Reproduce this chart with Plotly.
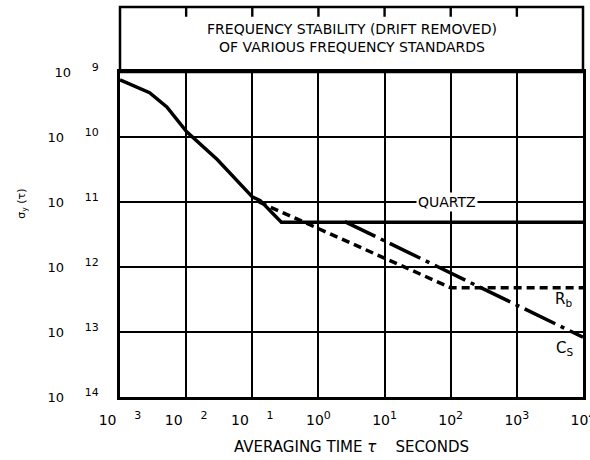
import math
import plotly.graph_objects as go

# ---- data ----
NB = "\u00a0"
EXP = "<sup><span style='font-size:11px'>{}</span></sup>"
x_tickvals = [1e-3, 1e-2, 1e-1, 1, 10, 100, 1000, 10000]
x_exponents = ["3", "2", "1", "0", "1", "2", "3", "4"]
x_gaps = [4, 4, 4, 0, 0, 0, 0, 0]
y_tickvals = [1e-9, 1e-10, 1e-11, 1e-12, 1e-13, 1e-14]
y_exponents = ["9", "10", "11", "12", "13", "14"]

quartz_tau = [1e-3, 2.8e-3, 5.1e-3, 1.02e-2, 2.95e-2, 0.1, 0.132, 0.275, 1e4]
quartz_sigma = [7.6e-10, 4.8e-10, 2.9e-10, 1.2e-10, 4.5e-11, 1.2e-11, 1.05e-11, 4.9e-12, 4.9e-12]

rb_tau = [0.126, 100, 1e4]
rb_sigma = [1.0e-11, 4.8e-13, 4.8e-13]

cs_tau = [2.5, 1e4]
cs_sigma = [5.0e-12, 8.3e-14]

x_ticktext = ["10" + NB * g + EXP.format(e) for g, e in zip(x_gaps, x_exponents)]
y_ticktext = ["10" + NB * 5 + EXP.format(e) for e in y_exponents]

X_RANGE = [-3.0001, 4.0001]
Y_RANGE = [-14.0001, -8.9999]
FONT = "DejaVu Sans"
BAND = 0.2  # height of the title band above the plot, in y-domain units

fig = go.Figure()
fig.add_trace(go.Scatter(x=quartz_tau, y=quartz_sigma, mode="lines",
                         line=dict(color="black", width=3.5), name="Quartz", showlegend=False))
fig.add_trace(go.Scatter(x=rb_tau, y=rb_sigma, mode="lines",
                         line=dict(color="black", width=3.5, dash="8px,5px"), name="Rb", showlegend=False))
fig.add_trace(go.Scatter(x=cs_tau, y=cs_sigma, mode="lines",
                         line=dict(color="black", width=3.5, dash="34px,6px,4px,6px"), name="Cs", showlegend=False))

# title band box above the grid
fig.add_shape(type="rect", xref="x domain", yref="y domain", x0=0, x1=1, y0=1, y1=1 + BAND,
              line=dict(color="black", width=2.5), fillcolor="rgba(0,0,0,0)")
# tick stubs hanging from the top of the band
for v in x_tickvals[1:-1]:
    f = (math.log10(v) - X_RANGE[0]) / (X_RANGE[1] - X_RANGE[0])
    fig.add_shape(type="line", xref="x domain", yref="y domain", x0=f, x1=f,
                  y0=1 + BAND, y1=1 + BAND - 0.03, line=dict(color="black", width=2.4))

fig.update_xaxes(type="log", range=X_RANGE, tickvals=x_tickvals, ticktext=x_ticktext,
                 showgrid=True, gridcolor="black", gridwidth=2.4, automargin=False,
                 showline=True, linecolor="black", linewidth=2.5, mirror=True,
                 ticks="", ticklabelstandoff=8, ticklabeloverflow="allow", zeroline=False,
                 tickfont=dict(family=FONT, size=14, color="black"))
fig.update_yaxes(type="log", range=Y_RANGE, tickvals=y_tickvals, ticktext=y_ticktext,
                 showgrid=True, gridcolor="black", gridwidth=2.4, automargin=False,
                 showline=True, linecolor="black", linewidth=2.5, mirror=True,
                 ticks="", ticklabelstandoff=16, zeroline=False,
                 tickfont=dict(family=FONT, size=13, color="black"))

common = dict(showarrow=False, xanchor="center", yanchor="middle")
annots = [
    dict(text="FREQUENCY STABILITY (DRIFT REMOVED)<br>OF VARIOUS FREQUENCY STANDARDS",
         xref="x domain", yref="y domain", x=0.5, y=1.106,
         font=dict(family=FONT, size=14, color="black"), **common),
    dict(text="QUARTZ", xref="x", yref="y", x=1.95, y=-11,
         bgcolor="white", font=dict(family=FONT, size=14, color="black"), **common),
    dict(text="R<sub>b</sub>", xref="x", yref="y", x=3.7, y=-12.5,
         font=dict(family=FONT, size=15, color="black"), **common),
    dict(text="C<sub>S</sub>", xref="x", yref="y", x=3.72, y=-13.25,
         font=dict(family=FONT, size=15, color="black"), **common),
    dict(text="AVERAGING TIME <i>\u03c4</i>" + NB * 4 + "SECONDS",
         xref="x domain", yref="y domain", x=0.5, y=-0.154,
         font=dict(family=FONT, size=15, color="black"), **common),
    dict(text="\u03c3<sub>y</sub> (\u03c4)", xref="x domain", yref="y domain", x=-0.212, y=0.594,
         textangle=-90, font=dict(family=FONT, size=11, color="black"), **common),
]
fig.update_layout(width=590, height=460, margin=dict(l=120, r=7, t=72, b=63, autoexpand=False),
                  paper_bgcolor="white", plot_bgcolor="white", annotations=annots,
                  showlegend=False)

fig.write_html("out.html", config={"displayModeBar": False},
               post_script="document.body.style.margin='0px';")
